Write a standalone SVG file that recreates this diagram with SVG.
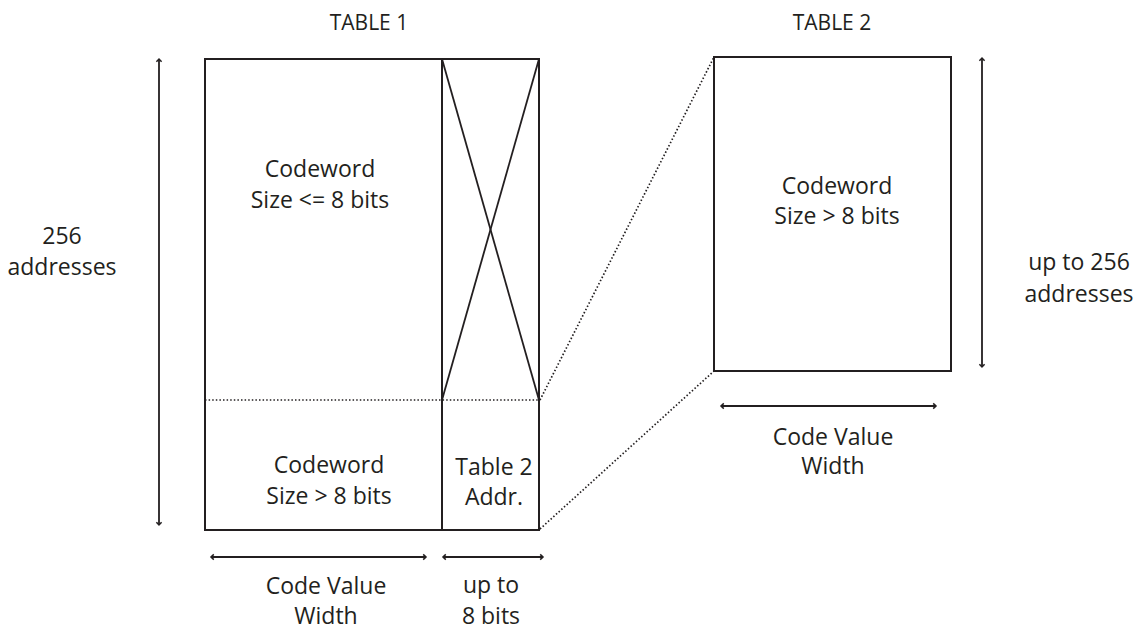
<svg xmlns="http://www.w3.org/2000/svg" width="1144" height="631" viewBox="0 0 1144 631">
  <style>
    .box { fill: none; stroke: #231f20; stroke-width: 2; }
    .solid { fill: none; stroke: #231f20; stroke-width: 1.8; }
    .dots { fill: none; stroke: #231f20; stroke-width: 1.7; stroke-dasharray: 1.5 2.1; }
    .dim { fill: none; stroke: #231f20; stroke-width: 1.8; marker-start: url(#tick); marker-end: url(#tick); }
    text { font-family: "Open Sans", "Liberation Sans", sans-serif; font-size: 23px; fill: #231f20; text-anchor: middle; }
    .title { font-size: 21px; }
  </style>
  <defs>
    <marker id="tick" viewBox="0 0 8 8" refX="6" refY="4" markerWidth="8" markerHeight="8" markerUnits="userSpaceOnUse" orient="auto-start-reverse">
      <path d="M3.2,1.4 L6,4 L3.2,6.6" fill="none" stroke="#231f20" stroke-width="1.5"/>
    </marker>
  </defs>

  <rect width="1144" height="631" fill="#ffffff"/>

  <!-- titles -->
  <text class="title" x="369" y="30">TABLE 1</text>
  <text class="title" x="832" y="30">TABLE 2</text>

  <!-- Table 1: main lookup table -->
  <g id="table1">
    <rect class="box" x="205" y="59" width="334" height="471"/>
    <line class="box" x1="442" y1="59" x2="442" y2="530"/>
    <!-- unused address column, crossed out -->
    <line class="solid" x1="442" y1="59" x2="539" y2="400"/>
    <line class="solid" x1="539" y1="59" x2="442" y2="400"/>
    <line class="dots" x1="205" y1="400" x2="539" y2="400"/>
  </g>

  <g id="t1-short">
    <text x="320" y="177">Codeword</text>
    <text x="320" y="208">Size &lt;= 8 bits</text>
  </g>

  <g id="t1-long">
    <text x="329" y="473">Codeword</text>
    <text x="329" y="504">Size &gt; 8 bits</text>
  </g>

  <g id="t1-addr">
    <text x="494" y="475">Table 2</text>
    <text x="494" y="505">Addr.</text>
  </g>

  <!-- Table 2: secondary table -->
  <g id="table2">
    <rect class="box" x="714" y="57" width="237" height="314"/>
    <text x="837" y="194">Codeword</text>
    <text x="837" y="224">Size &gt; 8 bits</text>
  </g>

  <!-- projection from Table 1 into Table 2 -->
  <g id="connectors">
    <line class="dots" x1="540" y1="400" x2="714" y2="57"/>
    <line class="dots" x1="540" y1="529" x2="714" y2="371"/>
  </g>

  <!-- dimension arrows -->
  <g id="dimensions">
    <line class="dim" x1="159" y1="59" x2="159" y2="525"/>
    <line class="dim" x1="982" y1="58" x2="982" y2="367"/>
    <line class="dim" x1="211" y1="557" x2="426" y2="557"/>
    <line class="dim" x1="443" y1="557" x2="543" y2="557"/>
    <line class="dim" x1="721" y1="406" x2="936" y2="406"/>
  </g>

  <g id="dim-labels">
    <text x="62" y="244">256</text>
    <text x="62" y="275">addresses</text>
    <text x="1079" y="270">up to 256</text>
    <text x="1079" y="302">addresses</text>
    <text x="326" y="594">Code Value</text>
    <text x="326" y="624">Width</text>
    <text x="491" y="593">up to</text>
    <text x="491" y="624">8 bits</text>
    <text x="833" y="445">Code Value</text>
    <text x="833" y="474">Width</text>
  </g>
</svg>
